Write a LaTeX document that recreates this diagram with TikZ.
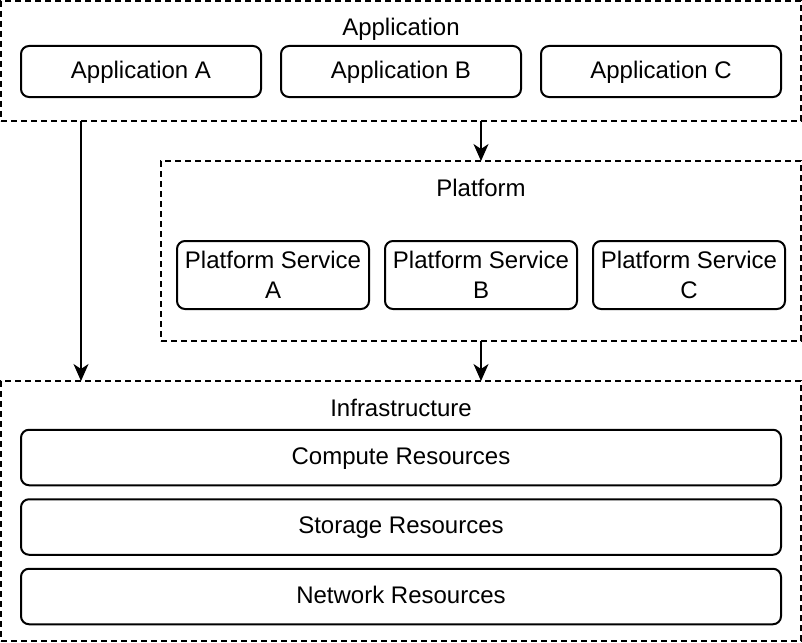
\documentclass[tikz,border=0pt]{standalone}
\usepackage{fontspec}
\setmainfont{Liberation Sans}
\usetikzlibrary{arrows.meta,calc,positioning}

\begin{document}
\begin{tikzpicture}[
    x=1pt, y=-1pt,
    font=\fontsize{24}{30}\selectfont,
    line width=2pt,
    every node/.style={outer sep=0pt, inner sep=0pt},
    oneline/.style={text height=17pt, text depth=4pt},
    layer/.style={draw, dash pattern=on 6pt off 4pt},
    title/.style={oneline, align=center},
    box/.style={draw, rounded corners=8pt, align=center, minimum height=51pt},
    appbox/.style={box, oneline, minimum width=240pt},
    servbox/.style={box, minimum width=192pt, minimum height=68pt},
    resbox/.style={box, oneline, minimum width=760pt, minimum height=55.5pt},
    arrow/.style={-{Stealth[length=17pt, width=15pt, inset=5pt]}, line width=2pt}
]
\useasboundingbox (0,0) rectangle (802,642);

% layers
\node[layer, minimum width=800pt, minimum height=120pt] (app) at (401,61) {};
\node[layer, minimum width=640pt, minimum height=180pt] (plat) at (481,251) {};
\node[layer, minimum width=800pt, minimum height=260pt] (infra) at (401,511) {};

\node[title, below=18pt of app.north] (apptitle) {Application};
\node[title, below=18pt of plat.north] (plattitle) {Platform};
\node[title, below=18pt of infra.north] (infratitle) {Infrastructure};

% application layer
\node[appbox] (appa) at (141,71.5) {Application A};
\node[appbox, right=20pt of appa] (appb) {Application B};
\node[appbox, right=20pt of appb] (appc) {Application C};

% platform layer
\node[servbox] (serva) at (273,275) {Platform Service\\A};
\node[servbox, right=16pt of serva] (servb) {Platform Service\\B};
\node[servbox, right=16pt of servb] (servc) {Platform Service\\C};

% infrastructure layer
\node[resbox] (compute) at (401,457.5) {Compute Resources};
\node[resbox, below=14pt of compute] (storage) {Storage Resources};
\node[resbox, below=14pt of storage] (network) {Network Resources};

\draw[arrow] ($(app.south west)!0.1!(app.south east)$) -- ($(infra.north west)!0.1!(infra.north east)$);
\draw[arrow] (app.south -| plat.north) -- (plat.north);
\draw[arrow] (plat.south) -- (plat.south |- infra.north);

\end{tikzpicture}
\end{document}
